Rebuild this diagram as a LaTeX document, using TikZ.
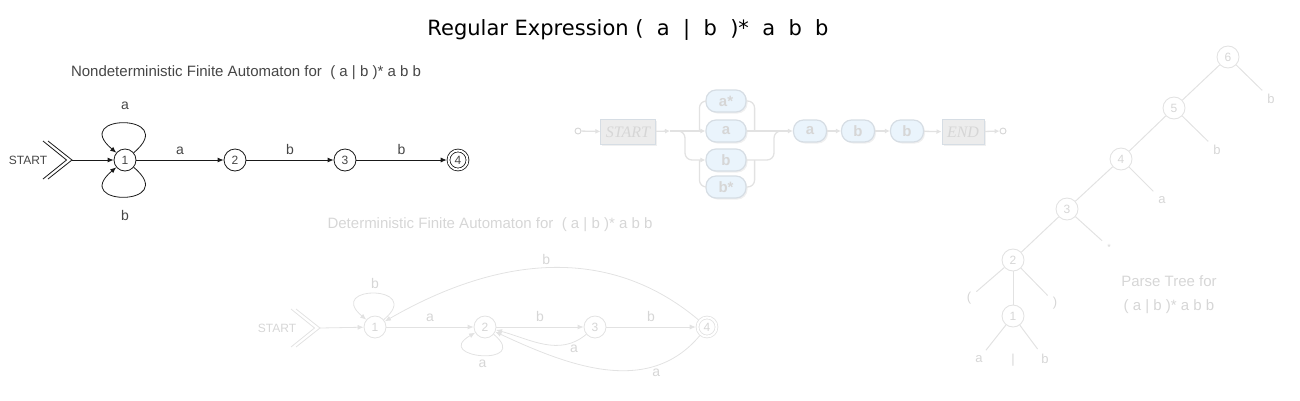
\documentclass[tikz,border=0pt]{standalone}
\usepackage{fontspec}
\setmainfont{Liberation Sans}
\newfontfamily\headfont{DejaVu Sans}
\newfontfamily\boxfont{Liberation Serif}
\usetikzlibrary{calc,arrows.meta,shadows}
\definecolor{ink}{RGB}{25,25,25}
\definecolor{inktext}{RGB}{70,70,70}
\definecolor{faded}{RGB}{226,226,226}
\definecolor{fadedtext}{RGB}{214,214,214}
\definecolor{pillblue}{RGB}{234,244,252}
\definecolor{pillrim}{RGB}{214,221,228}
\definecolor{boxgrey}{RGB}{236,236,236}
\tikzset{
  heading/.style={font=\headfont\fontsize{21}{21}\selectfont, text=black},
  nfa-text/.style={font=\fontsize{15}{15}\selectfont, text=inktext},
  nfa-state/.style={circle, draw=ink, line width=0.8pt, fill=white,
    minimum size=22pt, inner sep=0pt, text=inktext, font=\fontsize{12}{12}\selectfont},
  nfa-final/.style={nfa-state, minimum size=19pt, double, double distance=2pt, outer sep=1.8pt},
  nfa-edge/.style={draw=ink, line width=0.8pt, -{Latex[length=6pt,width=5pt]}},
  nfa-label/.style={font=\fontsize{14}{14}\selectfont, text=inktext, inner sep=1pt},
  dfa-text/.style={font=\fontsize{15}{15}\selectfont, text=fadedtext},
  dfa-state/.style={nfa-state, draw=faded, text=fadedtext},
  dfa-final/.style={nfa-final, draw=faded, text=fadedtext},
  dfa-edge/.style={nfa-edge, draw=faded},
  dfa-label/.style={nfa-label, text=fadedtext},
  syn-rail/.style={draw=faded, line width=1.3pt, rounded corners=7pt},
  syn-arrow/.style={syn-rail, -{Latex[length=5pt,width=5pt]}},
  syn-port/.style={circle, draw=fadedtext, line width=0.9pt, fill=white, minimum size=6pt, inner sep=0pt},
  syn-box/.style={rectangle, draw=pillrim, line width=1pt, fill=boxgrey, minimum height=25pt,
    inner xsep=5pt, text=fadedtext, font=\boxfont\itshape\fontsize{16}{16}\selectfont,
    drop shadow={shadow xshift=1.5pt, shadow yshift=-1.5pt, opacity=0.12}},
  syn-pill/.style={rectangle, rounded corners=10pt, draw=pillrim, line width=1.2pt, fill=pillblue,
    minimum width=40pt, minimum height=22pt, inner sep=0pt, text=fadedtext,
    font=\bfseries\fontsize{15}{15}\selectfont,
    drop shadow={shadow xshift=1.5pt, shadow yshift=-1.5pt, opacity=0.12}},
  tree-node/.style={circle, draw=faded, line width=0.9pt, minimum size=22pt, inner sep=0pt,
    text=fadedtext, font=\fontsize{12}{12}\selectfont},
  tree-leaf/.style={inner sep=5pt, text=fadedtext, font=\fontsize{13}{13}\selectfont},
  tree-edge/.style={draw=faded, line width=1pt}
}
\newcommand{\startchevron}[2]{
  \draw[#2, line width=0.8pt] ($(#1)+(-24,-19)$) -- (#1) -- ($(#1)+(-24,19)$);
  \draw[#2, line width=0.8pt] ($(#1)+(-29,-19)$) -- ($(#1)+(-5.5,0)$) -- ($(#1)+(-29,19)$);
}

\begin{document}
\begin{tikzpicture}[x=1pt, y=-1pt]
  \useasboundingbox (0,0) rectangle (1300,400);
  \node[heading] (title) at (628,30) {Regular Expression (\ \ a\ \ |\ \ b\ \ )*\ \ a\ \ b\ \ b};

  % Nondeterministic automaton
  \node[nfa-text] (nfa-title) at (246,73) {Nondeterministic Finite Automaton for\ \ ( a | b )* a b b};
  \node[nfa-text, font=\fontsize{12}{12}\selectfont] (nfa-start) at (28,160) {START};
  \coordinate (nfa-tip) at (72,160);
  \startchevron{nfa-tip}{ink}
  \node[nfa-state] (n1) at (125,160) {1};
  \node[nfa-state] (n2) at (235,160) {2};
  \node[nfa-state] (n3) at (345,160) {3};
  \node[nfa-final] (n4) at (458,160) {4};
  \draw[nfa-edge] (nfa-tip) -- (n1);
  \draw[nfa-edge] (n1) -- node[nfa-label, above=4pt] {a} (n2);
  \draw[nfa-edge] (n2) -- node[nfa-label, above=4pt] {b} (n3);
  \draw[nfa-edge] (n3) -- node[nfa-label, above=4pt] {b} (n4);
  \draw[nfa-edge] (n1) to[out=40, in=140, looseness=9] node[nfa-label, above=12pt] {a} (n1);
  \draw[nfa-edge] (n1) to[out=-40, in=-140, looseness=9] node[nfa-label, below=12pt] {b} (n1);

  % Deterministic automaton
  \node[dfa-text] (dfa-title) at (490,225) {Deterministic Finite Automaton for\ \ ( a | b )* a b b};
  \node[dfa-text, font=\fontsize{12}{12}\selectfont] (dfa-start) at (277,328) {START};
  \coordinate (dfa-tip) at (320,328);
  \startchevron{dfa-tip}{faded}
  \node[dfa-state] (d1) at (375,327) {1};
  \node[dfa-state] (d2) at (485,327) {2};
  \node[dfa-state] (d3) at (595,327) {3};
  \node[dfa-final] (d4) at (707,327) {4};
  \draw[dfa-edge] (dfa-tip) -- (d1);
  \draw[dfa-edge] (d1) -- node[dfa-label, above=4pt] {a} (d2);
  \draw[dfa-edge] (d2) -- node[dfa-label, above=4pt] {b} (d3);
  \draw[dfa-edge] (d3) -- node[dfa-label, above=4pt] {b} (d4);
  \draw[dfa-edge] (d1) to[out=40, in=140, looseness=8] node[dfa-label, above=3pt] {b} (d1);
  \draw[dfa-edge] (d2) to[out=-40, in=-150, looseness=7] node[dfa-label, below=3pt] {a} (d2);
  \draw[dfa-edge] (d3) to[out=-140, in=-15] node[dfa-label, pos=0.15, below=2pt] {a} (d2);
  \draw[dfa-edge] (d4) to[out=-130, in=-25] node[dfa-label, pos=0.25, below=2pt] {a} (d2);
  \draw[dfa-edge] (d4) to[out=140, in=30] node[dfa-label, above=2pt] {b} (d1);

  % Syntax diagram
  \node[syn-port] (syn-in) at (578,131) {};
  \node[syn-box] (syn-start) at (628,132) {START};
  \coordinate (syn-split) at (670,131);
  \coordinate (syn-fork) at (685,131);
  \node[syn-pill] (syn-astar) at (726,101) {a*};
  \node[syn-pill] (syn-a) at (726,131) {a};
  \node[syn-pill] (syn-b) at (726,160) {b};
  \node[syn-pill] (syn-bstar) at (726,187) {b*};
  \coordinate (syn-merge) at (774,131);
  \coordinate (syn-join) at (784,131);
  \node[syn-pill, minimum width=33pt] (syn-a2) at (810,131) {a};
  \node[syn-pill, minimum width=33pt] (syn-b2) at (858,131) {b};
  \node[syn-pill, minimum width=33pt] (syn-b3) at (907,131) {b};
  \node[syn-box] (syn-end) at (963,132) {END};
  \node[syn-port] (syn-out) at (1003,131) {};
  \draw[syn-arrow] (syn-in) -- (syn-start);
  \draw[syn-arrow] (syn-start) -- (syn-split);
  \draw[syn-arrow] (syn-split) -- (syn-a);
  \draw[syn-arrow] (syn-split) -- (syn-fork) |- (syn-b);
  \draw[syn-rail] (syn-a.west) ++(-6,0) |- (syn-astar);
  \draw[syn-rail] (syn-astar) -| ($(syn-a.east)+(8,0)$);
  \draw[syn-rail] (syn-b.west) ++(-6,0) |- (syn-bstar);
  \draw[syn-rail] (syn-bstar) -| ($(syn-b.east)+(8,0)$);
  \draw[syn-rail] (syn-b) -| (syn-merge) -- (syn-join);
  \draw[syn-arrow] (syn-a) -- (syn-a2);
  \draw[syn-arrow] (syn-a2) -- (syn-b2);
  \draw[syn-arrow] (syn-b2) -- (syn-b3);
  \draw[syn-arrow] (syn-b3) -- (syn-end);
  \draw[syn-arrow] (syn-end) -- (syn-out);

  % Parse tree
  \node[tree-node] (t6) at (1228,57) {6};
  \node[tree-node] (t5) at (1174,108) {5};
  \node[tree-node] (t4) at (1121,159) {4};
  \node[tree-node] (t3) at (1067,209) {3};
  \node[tree-node] (t2) at (1013,260) {2};
  \node[tree-node] (t1) at (1013,316) {1};
  \node[tree-leaf] (l6) at (1271,99) {b};
  \node[tree-leaf] (l5) at (1217,150) {b};
  \node[tree-leaf] (l4) at (1162,200) {a};
  \node[tree-leaf, font=\fontsize{9}{9}\selectfont] (l3) at (1109,247) {*};
  \node[tree-leaf] (l2a) at (969,298) {(};
  \node[tree-leaf] (l2b) at (1055,303) {)};
  \node[tree-leaf] (l1a) at (979,359) {a};
  \node[tree-leaf] (l1b) at (1013,360) {|};
  \node[tree-leaf] (l1c) at (1045,359) {b};
  \foreach \p/\c in {t6/t5, t5/t4, t4/t3, t3/t2, t2/t1, t6/l6, t5/l5, t4/l4,
                     t3/l3, t2/l2a, t2/l2b, t1/l1a, t1/l1c}
    \draw[tree-edge] (\p) -- (\c);
  \node[dfa-text, align=center, font=\fontsize{15}{24}\selectfont] (tree-caption) at (1169,295)
    {Parse Tree for\\( a | b )* a b b};
\end{tikzpicture}
\end{document}
